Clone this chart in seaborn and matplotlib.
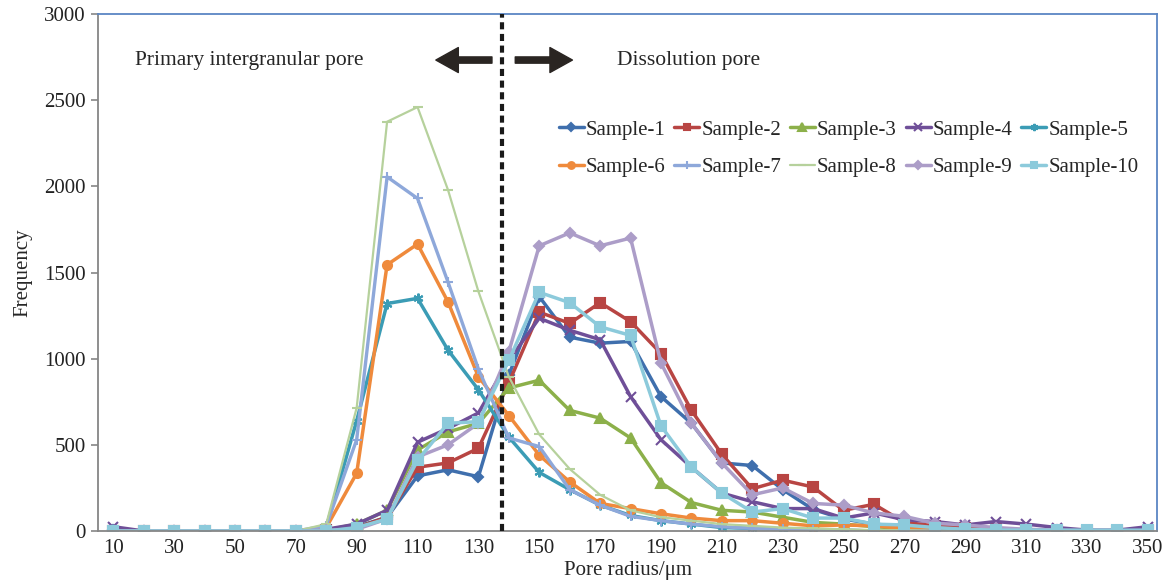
import matplotlib
matplotlib.use('Agg')
import matplotlib.pyplot as plt
import seaborn as sns
import pandas as pd

# Pore radius categories (um)
radius = [10, 20, 30, 40, 50, 60, 70, 80, 90, 100, 110, 120, 130, 140, 150, 160, 170, 180,
          190, 200, 210, 220, 230, 240, 250, 260, 270, 280, 290, 300, 310, 320, 330, 340, 350]
xtick_labels = [10, 30, 50, 70, 90, 110, 130, 150, 170, 190, 210, 230, 250, 270, 290, 310, 330, 350]
yticks = [0, 500, 1000, 1500, 2000, 2500, 3000]

sample_1 = [5, 0, 0, 0, 0, 0, 0, 5, 25, 80, 320, 355, 315, 905, 1360, 1125, 1090, 1100, 780, 625,
            395, 380, 240, 125, 70, 40, 25, 15, 10, 5, 5, 0, 0, 0, 0]
sample_2 = [0, 0, 0, 0, 0, 0, 0, 5, 20, 80, 370, 395, 480, 860, 1270, 1205, 1325, 1215, 1030, 700,
            445, 245, 295, 255, 120, 155, 50, 30, 20, 10, 5, 0, 0, 0, 0]
sample_3 = [0, 0, 0, 0, 0, 0, 0, 5, 40, 120, 470, 575, 625, 830, 875, 700, 655, 540, 280, 165,
            120, 110, 80, 50, 40, 25, 15, 10, 5, 5, 0, 0, 0, 0, 0]
sample_4 = [25, 0, 0, 0, 0, 0, 0, 10, 40, 120, 515, 595, 685, 990, 1235, 1165, 1110, 780, 530, 370,
            220, 170, 130, 130, 75, 105, 65, 55, 35, 55, 40, 20, 5, 5, 25]
sample_5 = [0, 0, 0, 0, 0, 0, 0, 20, 640, 1320, 1350, 1050, 820, 545, 340, 240, 150, 90, 60, 40,
            20, 15, 10, 5, 5, 0, 0, 0, 0, 0, 0, 0, 0, 0, 0]
sample_6 = [0, 0, 0, 0, 0, 0, 0, 20, 335, 1545, 1665, 1330, 895, 670, 440, 285, 160, 130, 100, 75,
            60, 60, 45, 30, 35, 30, 15, 10, 5, 5, 0, 0, 0, 0, 0]
sample_7 = [0, 0, 0, 0, 0, 0, 0, 30, 530, 2055, 1930, 1445, 940, 540, 490, 240, 150, 85, 60, 40,
            25, 15, 10, 5, 5, 0, 0, 0, 0, 0, 0, 0, 0, 0, 0]
sample_8 = [0, 0, 0, 0, 0, 0, 0, 40, 715, 2375, 2460, 1980, 1390, 895, 560, 360, 210, 120, 80, 60,
            40, 30, 20, 15, 10, 5, 5, 0, 0, 0, 0, 0, 0, 0, 0]
sample_9 = [0, 0, 0, 0, 0, 0, 0, 5, 10, 70, 430, 500, 625, 1040, 1655, 1730, 1655, 1700, 975, 625,
            395, 210, 250, 160, 150, 105, 85, 45, 35, 20, 10, 5, 0, 0, 0]
sample_10 = [0, 0, 0, 0, 0, 0, 0, 0, 20, 70, 410, 625, 635, 990, 1385, 1325, 1185, 1135, 610, 370,
             220, 110, 130, 75, 75, 40, 35, 20, 10, 5, 5, 5, 5, 5, 5]

names = ['Sample-1', 'Sample-2', 'Sample-3', 'Sample-4', 'Sample-5',
         'Sample-6', 'Sample-7', 'Sample-8', 'Sample-9', 'Sample-10']
series = [sample_1, sample_2, sample_3, sample_4, sample_5,
          sample_6, sample_7, sample_8, sample_9, sample_10]

# excel-ish look per series: color, marker, markersize, linewidth
styles = {
    'Sample-1': ('#3f6fad', 'D', 5, 2.5),
    'Sample-2': ('#b84543', 's', 6.5, 2.5),
    'Sample-3': ('#8cb04a', '^', 7, 2.5),
    'Sample-4': ('#6f4f98', 'x', 7, 2.5),
    'Sample-5': ('#3b9cb5', (6, 2, 0), 7, 2.5),
    'Sample-6': ('#ef8a3c', 'o', 6.5, 2.5),
    'Sample-7': ('#8ea8da', '+', 7, 2.4),
    'Sample-8': ('#b6d19c', '_', 7, 1.6),
    'Sample-9': ('#ac9dc8', 'D', 5.5, 2.5),
    'Sample-10': ('#8ccadb', 's', 6.5, 2.5),
}

df = pd.DataFrame({'radius': radius * len(names),
                   'freq': [v for s in series for v in s],
                   'sample': [n for n in names for _ in radius]})

sns.set_style('white')
plt.rcParams['font.family'] = ['Liberation Serif', 'DejaVu Serif']

fig = plt.figure(figsize=(11.64, 5.87), dpi=100)
ax = fig.add_axes([0.0842, 0.0954, 0.9098, 0.8807])

for name in names:
    c, m, ms, lw = styles[name]
    sub = df[df['sample'] == name]
    sns.lineplot(data=sub, x='radius', y='freq', color=c, marker=m, markersize=ms,
                 linewidth=lw, markeredgecolor=c, markeredgewidth=1.5,
                 label=name, ax=ax)

ax.set_xlim(5, 353)
ax.set_ylim(0, 3000)
ax.set_xticks(xtick_labels)
ax.set_yticks(yticks)
ax.tick_params(axis='both', labelsize=15, colors='#222222')
ax.tick_params(axis='x', length=0, pad=6)
ax.tick_params(axis='y', length=5, width=1.2, color='#868686', direction='out', left=True, pad=4)

for s in ['left', 'bottom']:
    ax.spines[s].set_color('#868686')
    ax.spines[s].set_linewidth(1.3)
for s in ['top', 'right']:
    ax.spines[s].set_color('#5b86c4')
    ax.spines[s].set_linewidth(1.3)

ax.set_xlabel('Pore radius/\u03bcm', fontsize=15, labelpad=2)
ax.set_ylabel('Frequency', fontsize=15, labelpad=8)

# boundary between the two pore types
ax.axvline(137.8, color='#1a1a1a', lw=3, ls=(0, (1.7, 1.1)), zorder=5)

ax.text(0.035, 0.911, 'Primary intergranular pore', transform=ax.transAxes,
        fontsize=15.5, va='center', ha='left')
ax.text(0.49, 0.911, 'Dissolution pore', transform=ax.transAxes,
        fontsize=15.5, va='center', ha='left')

arrow = dict(arrowstyle='simple,head_length=0.9,head_width=1.0,tail_width=0.25',
             color='#2a2522', mutation_scale=18, shrinkA=0, shrinkB=0)
ax.annotate('', xy=(0.319, 0.911), xytext=(0.372, 0.911), xycoords='axes fraction',
            textcoords='axes fraction', arrowprops=arrow)
ax.annotate('', xy=(0.448, 0.911), xytext=(0.394, 0.911), xycoords='axes fraction',
            textcoords='axes fraction', arrowprops=arrow)

# legend filled row by row like the excel one
handles, labels = ax.get_legend_handles_labels()
order = [0, 5, 1, 6, 2, 7, 3, 8, 4, 9]
ax.legend([handles[i] for i in order], [labels[i] for i in order],
          ncol=5, loc='upper left', bbox_to_anchor=(0.427, 0.811), frameon=False,
          fontsize=15, handlelength=1.2, handletextpad=0.1, columnspacing=0.42,
          labelspacing=0.85, borderaxespad=0, markerscale=0.75)

fig.savefig('out.png', dpi=100)
